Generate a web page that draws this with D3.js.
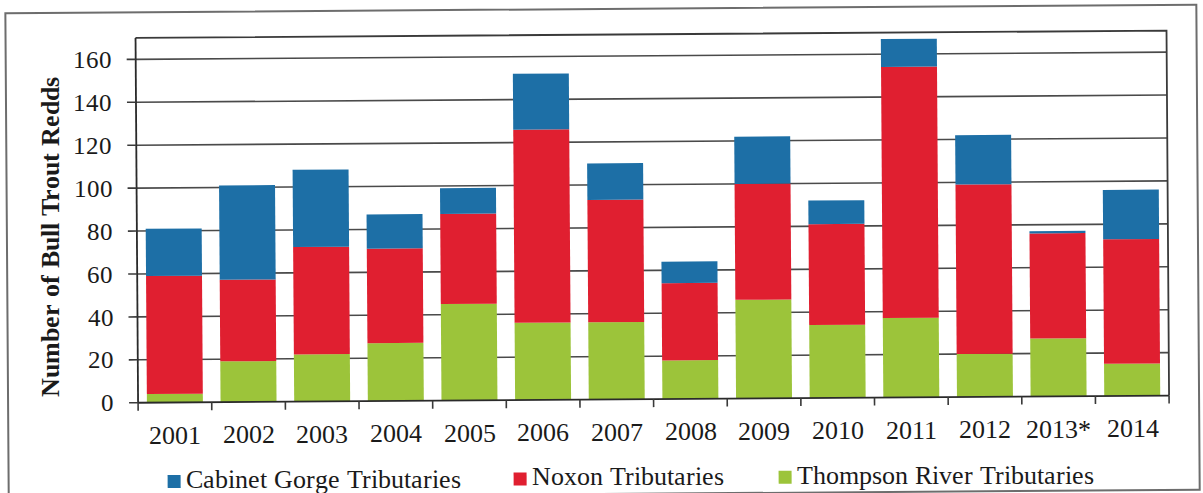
<!DOCTYPE html>
<html>
<head>
<meta charset="utf-8">
<script src="https://cdn.jsdelivr.net/npm/d3@7"></script>
<style>
  @font-face { font-family: "ChartSerif"; src: local("Liberation Serif"), local("LiberationSerif"), local("Times New Roman"), local("Tinos"); font-weight: normal; }
  @font-face { font-family: "ChartSerif"; src: local("Liberation Serif Bold"), local("LiberationSerif-Bold"), local("Times New Roman Bold"), local("Tinos Bold"); font-weight: bold; }
</style>
</head>
<body style="margin:0;background:#fff">
<svg id="redds" width="1203" height="493" style="display:block"></svg>
<script>
// Bull trout redd counts by year and tributary group
const years = ["2001","2002","2003","2004","2005","2006","2007","2008","2009","2010","2011","2012","2013*","2014"];
const thompson = [4, 19, 22, 27, 45, 36, 36, 18, 46, 34, 37, 20, 27, 15];
const noxon    = [55, 38, 50, 44, 42, 90, 57, 36, 54, 47, 117, 79, 49, 58];
const cabinet  = [22, 44, 36, 16, 12, 26, 17, 10, 22, 11, 13, 23, 1, 23];
const yTicks = [0, 20, 40, 60, 80, 100, 120, 140, 160];

const FONT = "'ChartSerif', 'Times New Roman', 'Liberation Serif', 'Tinos'";

const seriesKeys = ["thompson", "noxon", "cabinet"];
const seriesNames = {
  cabinet: "Cabinet Gorge Tributaries",
  noxon: "Noxon Tributaries",
  thompson: "Thompson River Tributaries"
};
const colors = { cabinet: "#1d6fa6", noxon: "#e01f30", thompson: "#9cc43a" };

const rows = years.map((y, i) => ({ year: y, thompson: thompson[i], noxon: noxon[i], cabinet: cabinet[i] }));
const stacked = d3.stack().keys(seriesKeys)(rows);

// the whole sheet sits at a slight tilt; shapes use a rotated group,
// text anchors are rotated with the same helper so glyphs stay upright
const TILT = -0.4, CX = 600, CY = 246;
const rad = TILT * Math.PI / 180;
function rot(px, py) {
  const dx = px - CX, dy = py - CY;
  return [CX + dx * Math.cos(rad) - dy * Math.sin(rad), CY + dx * Math.sin(rad) + dy * Math.cos(rad)];
}

// place a text at (px, py) of the untilted sheet
function label(parent, px, py, size, str, opts = {}) {
  const p = rot(px, py);
  parent.append("text")
    .attr("transform", `translate(${p[0]},${p[1]}) rotate(${opts.angle || 0})`)
    .attr("text-anchor", opts.anchor || "start")
    .attr("fill", "#1a1a1a")
    .style("font-family", FONT)
    .style("font-size", size + "px")
    .style("font-weight", opts.weight || "normal")
    .text(str);
}

const svg = d3.select("#redds");
const root = svg.append("g").attr("transform", `rotate(${TILT} ${CX} ${CY})`);
const labels = svg.append("g");

// outer frame
root.append("rect")
  .attr("x", 7).attr("y", 9).attr("width", 1191).attr("height", 485)
  .attr("fill", "none").attr("stroke", "#6d6d6d").attr("stroke-width", 2);

const plot = { left: 137, right: 1168 };
const x = d3.scaleBand().domain(years).range([plot.left, plot.right])
  .paddingInner(0.24).paddingOuter(0.12);
const y = d3.scaleLinear().domain([0, 160]).range([399.5, 56.1]);
const yMax = 170;

// horizontal gridlines
root.append("g").selectAll("line").data(yTicks.filter(t => t > 0)).join("line")
  .attr("x1", plot.left).attr("x2", plot.right)
  .attr("y1", d => y(d)).attr("y2", d => y(d))
  .attr("stroke", "#4a4a4a").attr("stroke-width", 1.6);

// plot border (top and right)
root.append("path")
  .attr("d", `M${plot.left},${y(yMax)}H${plot.right}V${y(0)}`)
  .attr("fill", "none").attr("stroke", "#3a3a3a").attr("stroke-width", 1.8);

// stacked bars
root.append("g").selectAll("g").data(stacked).join("g")
  .attr("fill", d => colors[d.key])
  .selectAll("rect").data(d => d).join("rect")
  .attr("x", d => x(d.data.year))
  .attr("width", x.bandwidth())
  .attr("y", d => y(d[1]))
  .attr("height", d => y(d[0]) - y(d[1]));

// y axis line and tick marks
const gy = root.append("g");
gy.append("line").attr("x1", plot.left).attr("x2", plot.left).attr("y1", y(yMax)).attr("y2", y(0))
  .attr("stroke", "#2a2a2a").attr("stroke-width", 1.8);
gy.selectAll("line.tk").data(yTicks).join("line").attr("class", "tk")
  .attr("x1", plot.left - 9).attr("x2", plot.left)
  .attr("y1", d => y(d)).attr("y2", d => y(d))
  .attr("stroke", "#3a3a3a").attr("stroke-width", 1.6);
yTicks.forEach(t => label(labels, plot.left - 24, y(t) + 8.5, 25, String(t), { anchor: "end" }));

// x axis with ticks at category boundaries
const gx = root.append("g");
gx.append("line").attr("x1", plot.left).attr("x2", plot.right)
  .attr("y1", y(0)).attr("y2", y(0))
  .attr("stroke", "#2a2a2a").attr("stroke-width", 1.8);
const step = x.step();
const boundaries = years.map(yr => x(yr) - step * x.paddingInner() / 2).concat([plot.right]);
gx.selectAll("line.tk").data(boundaries).join("line").attr("class", "tk")
  .attr("x1", d => d).attr("x2", d => d)
  .attr("y1", y(0)).attr("y2", y(0) + 8)
  .attr("stroke", "#3a3a3a").attr("stroke-width", 1.6);
years.forEach(yr => label(labels, x(yr) + x.bandwidth() / 2, 441, 26, yr, { anchor: "middle" }));

// y axis title
label(labels, 59, 233, 26, "Number of Bull Trout Redds", { anchor: "middle", angle: -90, weight: "bold" });

// legend
const legendItems = [
  { key: "cabinet", sx: 166 },
  { key: "noxon", sx: 512 },
  { key: "thompson", sx: 777 }
];
root.append("g").selectAll("rect").data(legendItems).join("rect")
  .attr("x", d => d.sx).attr("y", 472).attr("width", 13).attr("height", 13)
  .attr("fill", d => colors[d.key]);
legendItems.forEach(d => label(labels, d.sx + 18, 485, 26, seriesNames[d.key]));
</script>
</body>
</html>
